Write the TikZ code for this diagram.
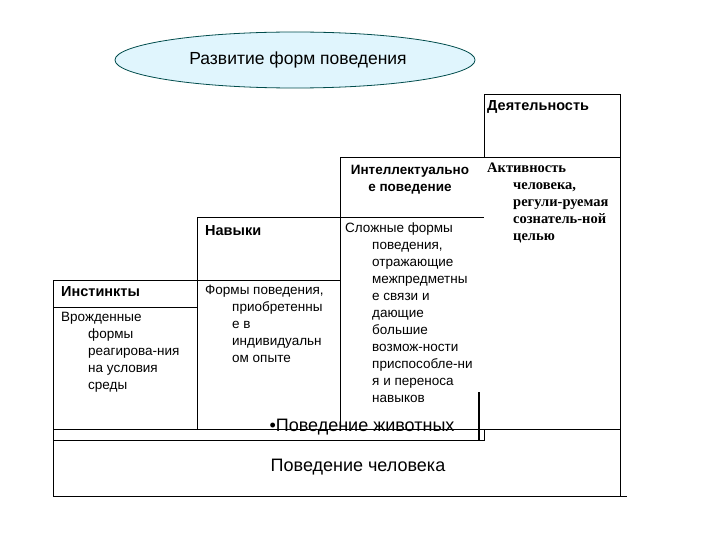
\documentclass[tikz,border=0pt]{standalone}
\usepackage{fontspec}
\setmainfont{Liberation Sans}
\newfontfamily\serifb{Liberation Serif}
\usetikzlibrary{shapes.geometric}
\begin{document}
\begin{tikzpicture}[x=1pt,y=-1pt,
  ln/.style={draw=black,line width=0.8pt},
  txt/.style={anchor=north west,align=left,inner sep=0pt,font=\fontsize{13.5}{17}\selectfont},
  hd/.style={anchor=north west,inner sep=0pt,font=\fontsize{14.5}{17}\selectfont\bfseries}]
\useasboundingbox (0,0) rectangle (720,540);
\node[ellipse,draw=teal!60!black,fill=cyan!12,line width=0.8pt,minimum width=360,minimum height=56] (ell) at (295,60) {};
\node[font=\fontsize{17.5}{18}\selectfont] (elt) at (298,60) {Развитие форм поведения};
% steps
\draw[ln] (53,429) -- (53,280) -- (197,280) -- (197,217) -- (340,217) -- (340,157) -- (484,157) -- (484,94) -- (620,94) -- (620,429);
\draw[ln] (53,307) -- (197,307);
\draw[ln] (197,280) -- (340,280);
\draw[ln] (197,280) -- (197,429);
\draw[ln] (340,217) -- (484,217);
\draw[ln] (340,217) -- (340,429);
\draw[ln] (484,157) -- (620,157);
\draw[ln] (53,429) -- (620,429);
\draw[ln] (53,429) -- (53,440) -- (484,440) -- (484,429);
\draw[line width=1.6pt] (479,392) -- (479,440);
\draw[ln] (53,440) -- (53,496) -- (627,496);
\draw[ln] (620,429) -- (620,496);
% headers
\node[hd] (dey) at (487,100) {Деятельность};
\node[hd,align=center,anchor=north,font=\fontsize{13.5}{17}\selectfont\bfseries] (int) at (410,165) {Интеллектуально\\е поведение};
\node[hd] (nav) at (205,225) {Навыки};
\node[hd] (ins) at (61,286) {Инстинкты};
% bodies
\node[txt] (b1) at (61,312) {Врожденные\\\hspace*{27pt}формы\\\hspace*{27pt}реагирова-ния\\\hspace*{27pt}на условия\\\hspace*{27pt}среды};
\node[txt] (b2) at (205,285) {Формы поведения,\\\hspace*{27pt}приобретенны\\\hspace*{27pt}е в\\\hspace*{27pt}индивидуальн\\\hspace*{27pt}ом опыте};
\node[txt] (b3) at (345,223) {Сложные формы\\\hspace*{27pt}поведения,\\\hspace*{27pt}отражающие\\\hspace*{27pt}межпредметны\\\hspace*{27pt}е связи и\\\hspace*{27pt}дающие\\\hspace*{27pt}большие\\\hspace*{27pt}возмож-ности\\\hspace*{27pt}приспособле-ни\\\hspace*{27pt}я и переноса\\\hspace*{27pt}навыков};
\node[anchor=north west,align=left,inner sep=0pt,font=\serifb\bfseries\fontsize{14.5}{17}\selectfont] (b4) at (487,163) {Активность\\\hspace*{26pt}человека,\\\hspace*{26pt}регули-руемая\\\hspace*{26pt}сознатель-ной\\\hspace*{26pt}целью};
\node[font=\fontsize{18}{20}\selectfont] (anim) at (362,427) {•Поведение животных};
\node[font=\fontsize{18}{20}\selectfont] (hum) at (358,467) {Поведение человека};
\end{tikzpicture}
\end{document}
